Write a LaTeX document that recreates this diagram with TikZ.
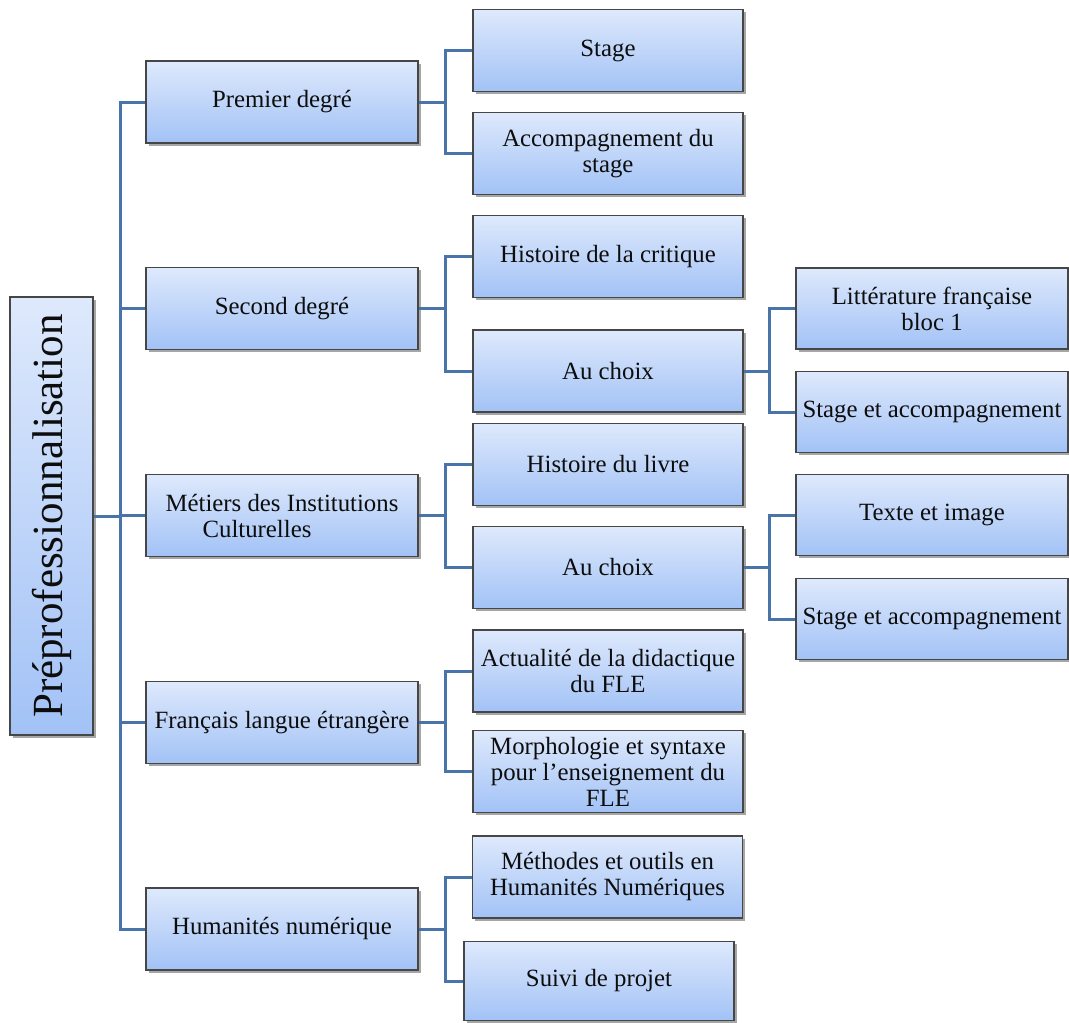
\documentclass[tikz,border=0pt]{standalone}
\usepackage{fontspec}
\setmainfont{Liberation Serif}
\usetikzlibrary{shadows}
\definecolor{connblue}{RGB}{72,116,170}
\definecolor{boxtop}{RGB}{222,233,252}
\definecolor{boxbot}{RGB}{162,194,246}
\definecolor{boxline}{RGB}{70,70,70}
\tikzset{
  box/.style={draw=boxline, line width=1.1pt, top color=boxtop, bottom color=boxbot,
    inner sep=0pt, align=center, text=black!95,
    font=\fontsize{24.8}{26}\selectfont,
    drop shadow={shadow xshift=2.5pt, shadow yshift=-2.5pt, fill=black, opacity=.35}},
  conn/.style={draw=connblue, line width=3pt},
  lone/.style={box, minimum width=272pt, minimum height=82pt},
  ltwo/.style={box, minimum width=270pt, minimum height=82pt},
  lthree/.style={box, minimum width=272pt, minimum height=81pt},
}
\begin{document}
\begin{tikzpicture}[x=1pt,y=-1pt]
\useasboundingbox (0,0) rectangle (1069,1023);
% root
\node[box, minimum width=83pt, minimum height=438pt] (root) at (51.5,516)
  {\rotatebox{90}{\fontsize{43}{45}\selectfont Préprofessionnalisation}};
% level 1
\node[lone] (p1) at (282,102) {Premier degré};
\node[lone] (s1) at (282,308.5) {Second degré};
\node[lone, align=left] (m1) at (282,515.5) {Métiers des Institutions\\\hspace*{37pt}Culturelles};
\node[lone] (f1) at (282,722.5) {Français langue étrangère};
\node[lone] (h1) at (282,929) {Humanités numérique};
% level 2
\node[ltwo] (stage) at (608,50.5) {Stage};
\node[ltwo] (accomp) at (608,153.5) {Accompagnement du\\stage};
\node[ltwo] (hcrit) at (608,256.5) {Histoire de la critique};
\node[ltwo] (choix1) at (608,371) {Au choix};
\node[ltwo] (hlivre) at (608,464.5) {Histoire du livre};
\node[ltwo] (choix2) at (608,567.5) {Au choix};
\node[ltwo] (actu) at (608,671) {Actualité de la didactique\\du FLE};
\node[ltwo] (morpho) at (608,771.5) {Morphologie et syntaxe\\pour l'enseignement du\\FLE};
\node[ltwo] (meth) at (607.5,877) {Méthodes et outils en\\Humanités Numériques};
\node[ltwo, minimum height=79pt] (suivi) at (599,981) {Suivi de projet};
% level 3
\node[lthree] (litt) at (932,308.5) {Littérature française\\bloc 1};
\node[lthree] (sa1) at (932,412) {Stage et accompagnement};
\node[lthree] (texte) at (932,515) {Texte et image};
\node[lthree] (sa2) at (932,619) {Stage et accompagnement};
% branch coordinates
\coordinate (T) at (120,0);
\coordinate (B) at (445,0);
\coordinate (C) at (769,0);
% trunk
\draw[conn] (root.east) -- (root.east -| T);
\draw[conn] (p1.west) -| (T |- h1.west) -- (h1.west);
\draw[conn] (s1.west) -- (s1.west -| T);
\draw[conn] (m1.west) -- (m1.west -| T);
\draw[conn] (f1.west) -- (f1.west -| T);
% level1 -> level2
\draw[conn] (p1.east) -- (p1.east -| B);
\draw[conn] (stage.west) -| (B |- accomp.west) -- (accomp.west);
\draw[conn] (s1.east) -- (s1.east -| B);
\draw[conn] (hcrit.west) -| (B |- choix1.west) -- (choix1.west);
\draw[conn] (m1.east) -- (m1.east -| B);
\draw[conn] (hlivre.west) -| (B |- choix2.west) -- (choix2.west);
\draw[conn] (f1.east) -- (f1.east -| B);
\draw[conn] (actu.west) -| (B |- morpho.west) -- (morpho.west);
\draw[conn] (h1.east) -- (h1.east -| B);
\draw[conn] (meth.west) -| (B |- suivi.west) -- (suivi.west);
% level2 -> level3
\draw[conn] (choix1.east) -- (choix1.east -| C);
\draw[conn] (litt.west) -| (C |- sa1.west) -- (sa1.west);
\draw[conn] (choix2.east) -- (choix2.east -| C);
\draw[conn] (texte.west) -| (C |- sa2.west) -- (sa2.west);
\end{tikzpicture}
\end{document}
